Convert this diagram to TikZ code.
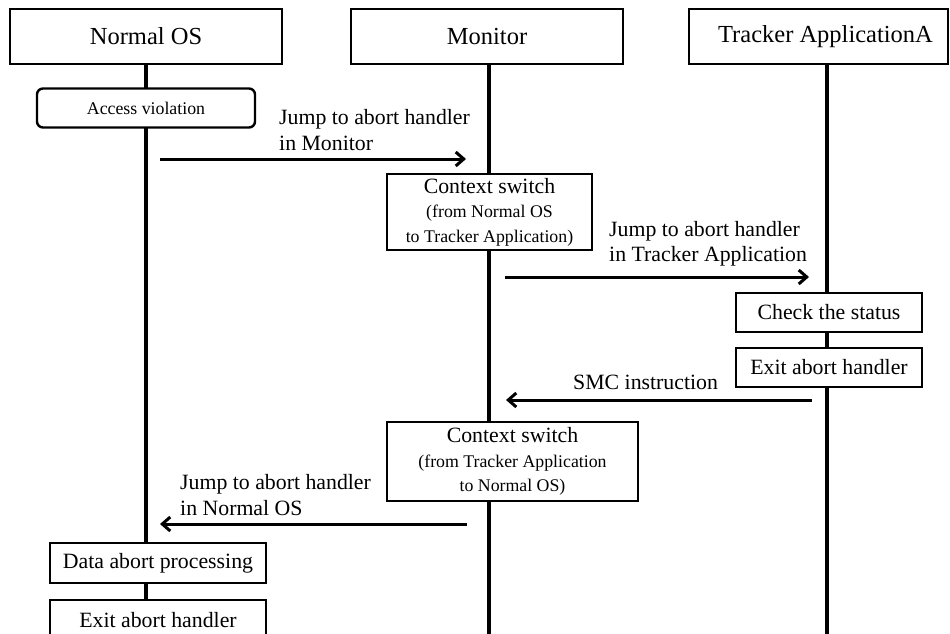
\documentclass[tikz,border=0pt]{standalone}
\usepackage{fontspec}
\setmainfont{Liberation Serif}
\usetikzlibrary{arrows.meta}

\newcommand{\headf}{\fontsize{24.5}{28}\selectfont}
\newcommand{\bodyf}{\fontsize{21.8}{25.5}\selectfont}
\newcommand{\smallf}{\fontsize{17.8}{24.5}\selectfont}

\tikzset{
  lifeline/.style={line width=4pt},
  headbox/.style={draw, line width=2.4pt, fill=white, inner sep=0pt,
    minimum height=55pt, font=\headf},
  actbox/.style={draw, line width=2.4pt, fill=white, inner sep=0pt, align=center},
  msg/.style={line width=3pt, -{Straight Barb[length=8pt,width=14pt]}},
  msglabel/.style={anchor=west, inner sep=0pt, align=left, font=\bodyf}
}

\begin{document}
\begin{tikzpicture}[x=1pt, y=-1pt]
\useasboundingbox (0,0) rectangle (950,634);

% lifelines
\coordinate (nBot) at (146,634);
\coordinate (mBot) at (489,634);
\coordinate (tBot) at (827,634);
\coordinate (nTop) at (146,64);
\coordinate (mTop) at (489,64);
\coordinate (tTop) at (827,64);
\draw[lifeline] (nTop) -- (nBot);
\draw[lifeline] (mTop) -- (mBot);
\draw[lifeline] (tTop) -- (tBot);

% participants
\node[headbox, minimum width=272pt] (normal) at (146,36.5) {Normal OS};
\node[headbox, minimum width=272pt] (monitor) at (487,36.5) {Monitor};
\node[headbox, minimum width=259pt] (tracker) at (818.5,36.5) {\hspace{14pt}Tracker ApplicationA};

% activities
\node[actbox, rounded corners=6pt, minimum width=218pt, minimum height=39pt,
  font=\smallf] (access) at (146,108) {Access violation};

\node[actbox, minimum width=205pt, minimum height=76pt, font=\smallf] (ctx1) at (489.5,212)
  {{\bodyf Context switch}\\(from Normal OS\\to Tracker Application)};

\node[actbox, minimum width=186pt, minimum height=39pt, font=\bodyf] (check) at (829,312.5) {Check the status};
\node[actbox, minimum width=186pt, minimum height=39pt, font=\bodyf] (exitT) at (829,367.5) {Exit abort handler};

\node[actbox, minimum width=251pt, minimum height=79pt, font=\smallf] (ctx2) at (512.5,461.5)
  {{\bodyf Context switch}\\(from Tracker Application\\to Normal OS)};

\node[actbox, minimum width=216pt, minimum height=40pt, font=\bodyf] (data) at (158,563) {Data abort processing};
\node[actbox, minimum width=216pt, minimum height=40pt, font=\bodyf, anchor=north] (exitN) at (158,599) {Exit abort handler};

% messages
\coordinate (m1s) at (160,159);
\coordinate (m1e) at (466,159);
\draw[msg] (m1s) -- (m1e);
\node[msglabel] (l1) at (279,130) {Jump to abort handler\\in Monitor};

\coordinate (m2s) at (505,277);
\coordinate (m2e) at (809,277);
\draw[msg] (m2s) -- (m2e);
\node[msglabel] (l2) at (609,244) {Jump to abort handler\\in Tracker Application};

\coordinate (m3s) at (812,400);
\coordinate (m3e) at (506,400);
\draw[msg] (m3s) -- (m3e);
\node[msglabel] (l3) at (573,382) {SMC instruction};

\coordinate (m4s) at (467,524);
\coordinate (m4e) at (160,524);
\draw[msg] (m4s) -- (m4e);
\node[msglabel] (l4) at (180,495) {Jump to abort handler\\in Normal OS};

\end{tikzpicture}
\end{document}
